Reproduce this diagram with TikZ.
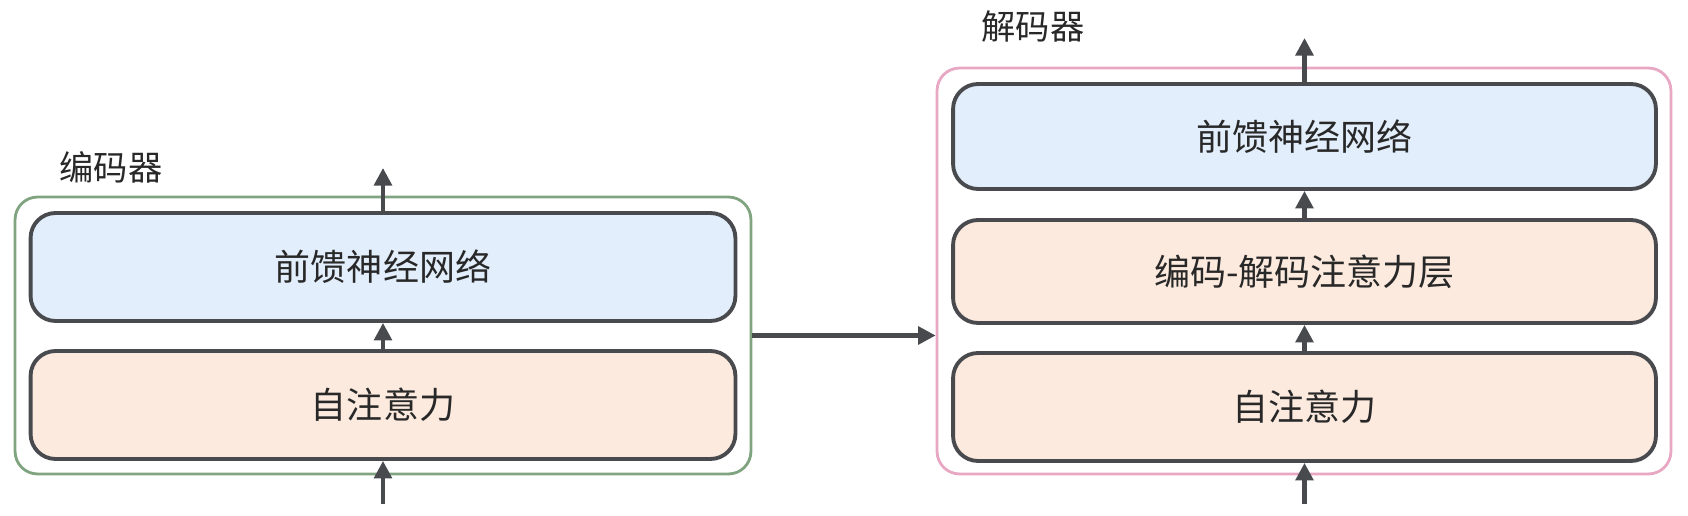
\documentclass[tikz,border=0pt]{standalone}
\usepackage{fontspec}
\setmainfont{Noto Sans CJK SC}
\usepackage{xcolor}
\usetikzlibrary{arrows.meta}
\definecolor{ffnblue}{RGB}{226,238,251}
\definecolor{attnorange}{RGB}{252,234,223}
\definecolor{boxgray}{RGB}{72,74,78}
\definecolor{encgreen}{RGB}{128,164,128}
\definecolor{decpink}{RGB}{232,168,196}
\definecolor{textgray}{RGB}{40,40,40}

\begin{document}
\begin{tikzpicture}[x=0.02cm, y=-0.02cm,
  layer/.style={draw=boxgray, line width=2.2pt, rounded corners=0.5cm,
    minimum width=14.1cm, text=textgray, font=\fontsize{20.5}{24}\selectfont},
  outerbox/.style={line width=1.6pt, rounded corners=0.45cm},
  flow/.style={draw=boxgray, line width=2.4pt, -{Triangle[length=10pt, width=10pt]}}]
  \useasboundingbox (0,0) rectangle (1688,516);

  % Encoder
  \node[outerbox, draw=encgreen, minimum width=14.72cm, minimum height=5.54cm] (enc) at (383,335.5) {};
  \node[text=textgray, font=\fontsize{19.5}{22}\selectfont] (enclabel) at (111,167) {编码器};
  \node[layer, fill=ffnblue, minimum height=2.16cm] (encffn) at (383,267) {前馈神经网络};
  \node[layer, fill=attnorange, minimum height=2.16cm] (encself) at (383,405) {自注意力};

  % Decoder
  \node[outerbox, draw=decpink, minimum width=14.68cm, minimum height=8.12cm] (dec) at (1304,271) {};
  \node[text=textgray, font=\fontsize{19.5}{22}\selectfont] (declabel) at (1033,27) {解码器};
  \node[layer, fill=ffnblue, minimum width=14.06cm, minimum height=2.1cm] (decffn) at (1304.5,136.5) {前馈神经网络};
  \node[layer, fill=attnorange, minimum width=14.06cm, minimum height=2.06cm] (deccross) at (1304.5,271.5) {编码-解码注意力层};
  \node[layer, fill=attnorange, minimum width=14.06cm, minimum height=2.16cm] (decself) at (1304.5,407) {自注意力};

  % In / out points
  \coordinate (encin) at (383,504);
  \coordinate (encout) at (383,168);
  \coordinate (decin) at (1304.5,504);
  \coordinate (decout) at (1304.5,38);

  % Arrows
  \draw[flow] (encin) -- (encself.south);
  \draw[flow] (encself.north) -- (encffn.south);
  \draw[flow] (encffn.north) -- (encout);
  \draw[flow] (decin) -- (decself.south);
  \draw[flow] (decself.north) -- (deccross.south);
  \draw[flow] (deccross.north) -- (decffn.south);
  \draw[flow] (decffn.north) -- (decout);
  \draw[flow] (enc.east) -- (enc.east -| dec.west);

\end{tikzpicture}
\end{document}
